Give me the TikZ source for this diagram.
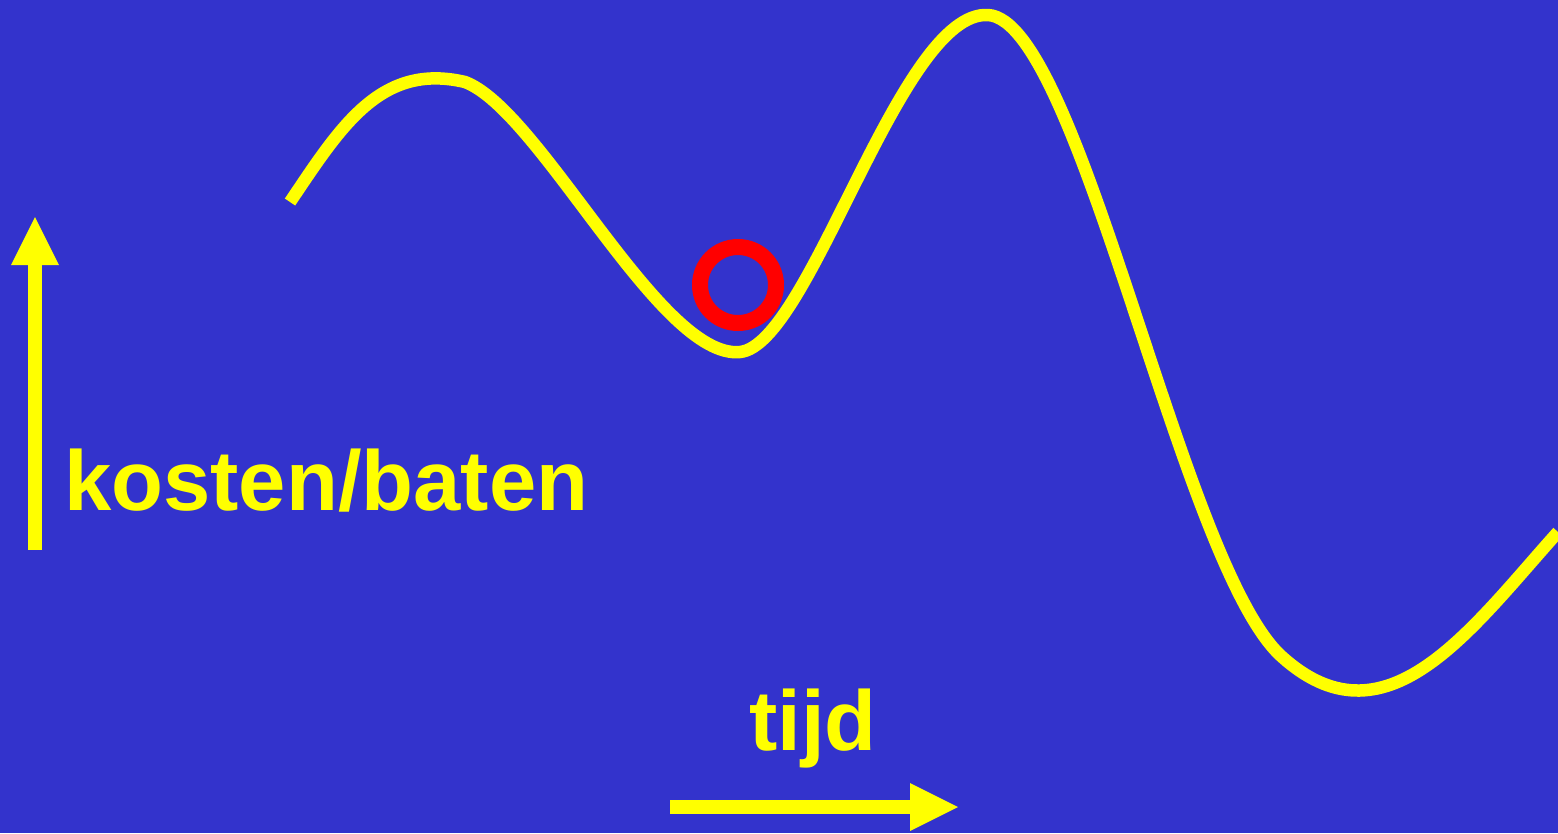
\documentclass[tikz,border=0pt]{standalone}
\usepackage{fontspec}
\setmainfont{Liberation Sans}
\definecolor{bg}{HTML}{3333CC}
\definecolor{yel}{HTML}{FFFF00}
\definecolor{rd}{HTML}{FF0000}
\begin{document}
\begin{tikzpicture}[x=1pt,y=-1pt,
  curve/.style={yel,line width=12.5pt},
  lbl/.style={text=yel,font=\fontsize{85}{85}\selectfont\bfseries,inner sep=0pt,anchor=base west}]
\fill[bg] (0,0) rectangle (1558,833);
\useasboundingbox (0,0) rectangle (1558,833);
\draw[curve] (290,202) .. controls (340,128) and (380,62) .. (465,82)
  .. controls (540,110) and (660,360) .. (740,352)
  .. controls (810,345) and (900,10) .. (988,15)
  .. controls (1080,20) and (1180,560) .. (1280,655)
  .. controls (1385,752) and (1470,630) .. (1558,532);
\draw[rd,line width=16pt] (738,285) circle (38);
\fill[yel] (28,550) rectangle (42,265);
\fill[yel] (11,265) -- (59,265) -- (35,217) -- cycle;
\fill[yel] (670,800) rectangle (910,814);
\fill[yel] (910,783) -- (910,831) -- (958,807) -- cycle;
\node[lbl] (k) at (64,510) {kosten/baten};
\node[lbl] (t) at (749,750) {tijd};
\end{tikzpicture}
\end{document}
